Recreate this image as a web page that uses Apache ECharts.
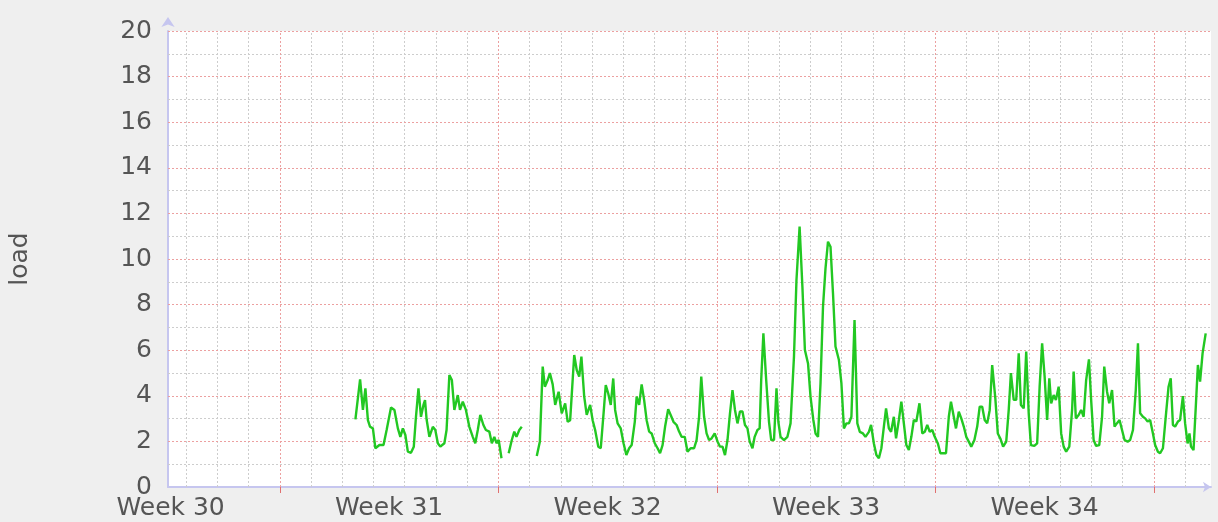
<!DOCTYPE html>
<html>
<head>
<meta charset="utf-8">
<script src="https://cdn.jsdelivr.net/npm/echarts@6/dist/echarts.min.js"></script>
<style>
html,body{margin:0;padding:0;background:#efefef;}
#chart{width:1218px;height:522px;}
</style>
</head>
<body>
<div id="chart"></div>
<script>
// x = days since start of Week 30, y = load
const days = [
 9.42,9.57,9.66,9.74,9.82,9.89,9.98,10.06,10.19,10.32,10.42,10.56,10.67,10.78,10.86,10.94,11.02,11.10,11.20,11.29,
 11.36,11.44,11.52,11.60,11.65,11.70,11.79,11.90,11.98,12.06,12.14,12.27,12.34,12.43,12.51,12.59,12.70,12.77,12.86,12.96,
 13.07,13.18,13.26,13.34,13.42,13.52,13.60,13.71,13.79,13.87,13.94,14.01,14.10,14.20,
 14.33,14.43,14.51,14.58,14.67,14.75,15.00,
 15.23,15.33,15.42,15.49,15.58,15.65,15.74,15.82,15.93,16.03,16.14,16.22,16.30,16.43,16.51,16.59,16.66,16.75,16.83,16.94,
 17.02,17.10,17.20,17.28,17.37,17.44,17.52,17.60,17.68,17.74,17.82,17.92,18.01,18.10,18.19,18.27,18.37,18.43,18.51,18.59,
 18.67,18.75,18.83,18.91,19.01,19.10,19.18,19.26,19.34,19.44,19.52,19.61,19.71,19.79,19.87,19.97,20.06,20.16,20.27,20.35,
 20.43,20.50,20.59,20.67,20.75,20.83,20.93,21.02,21.10,21.18,21.26,21.34,21.42,21.50,21.58,21.66,21.74,21.82,21.90,21.98,
 22.05,22.14,22.21,22.30,22.37,22.42,22.49,22.58,22.67,22.74,22.83,22.91,22.97,23.04,23.15,23.26,23.36,23.47,23.55,23.65,
 23.74,23.82,23.92,24.00,24.09,24.16,24.24,24.32,24.40,24.48,24.56,24.64,24.72,24.80,24.91,24.99,25.07,25.15,25.23,25.31,
 25.41,25.50,25.58,25.68,25.76,25.87,25.94,26.03,26.11,26.19,26.27,26.35,26.42,26.51,26.58,26.67,26.74,26.83,26.91,26.99,
 27.07,27.15,27.23,27.31,27.39,27.49,27.58,27.66,27.74,27.82,27.90,27.98,28.08,28.16,28.25,28.34,28.43,28.50,28.59,28.66,
 28.75,28.83,28.91,28.99,29.07,29.15,29.25,29.34,29.42,29.50,29.58,29.66,29.74,29.82,29.92,30.00,30.08,30.17,30.27,30.35,
 30.42,30.51,30.59,30.67,30.74,30.83,30.91,30.99,31.06,31.17,31.26,31.34,31.42,31.50,31.58,31.65,31.71,31.79,31.86,31.95,
 32.03,32.11,32.19,32.29,32.38,32.43,32.50,32.59,32.67,32.75,32.83,32.92,32.99,33.07,33.15,33.25,33.34,33.41,33.50,33.57,
 33.66,33.74,33.82,33.90,33.98,34.06,34.16,34.24,34.33,34.42,34.49,34.56,34.65,34.72,34.80,34.88,34.97,35.04,35.13,35.20,
 35.29,35.38,35.47,35.54,35.61,35.68,35.77,35.84,35.93,36.00,36.08,36.14,36.19,36.27,36.34,36.41,36.48,36.56,36.66
];
const load = [
 2.97,4.72,3.38,4.33,2.93,2.64,2.57,1.70,1.84,1.84,2.50,3.49,3.38,2.57,2.20,2.57,2.28,1.55,1.50,1.77,
 3.08,4.33,3.08,3.60,3.81,2.97,2.20,2.64,2.50,1.92,1.77,1.92,2.50,4.91,4.69,3.38,4.03,3.38,3.74,3.38,
 2.64,2.20,1.92,2.50,3.16,2.72,2.50,2.43,1.92,2.20,1.92,2.06,1.26,null,
 1.48,2.06,2.43,2.20,2.50,2.64,null,
 1.36,2.00,5.28,4.40,4.69,5.00,4.50,3.60,4.18,3.23,3.67,2.86,2.93,5.79,5.13,4.84,5.72,3.96,3.16,3.60,
 2.93,2.50,1.77,1.70,3.23,4.47,4.10,3.60,4.76,3.38,2.79,2.57,1.92,1.40,1.70,1.84,2.86,3.96,3.60,4.50,
 3.81,2.93,2.43,2.35,1.92,1.70,1.48,1.84,2.64,3.41,3.16,2.86,2.72,2.43,2.20,2.20,1.55,1.70,1.70,2.06,
 3.08,4.84,3.08,2.35,2.06,2.13,2.35,2.00,1.77,1.77,1.40,2.06,3.23,4.25,3.38,2.79,3.31,3.31,2.72,2.57,
 2.00,1.70,2.20,2.50,2.57,4.69,6.74,4.69,2.86,2.06,2.06,4.33,2.85,2.20,2.06,2.20,2.79,5.72,9.08,11.42,
 8.79,6.01,5.42,3.96,2.94,2.35,2.20,4.54,7.91,9.59,10.76,10.54,8.50,6.16,5.57,4.54,2.57,2.79,2.79,3.08,
 7.32,2.79,2.42,2.35,2.20,2.42,2.72,1.91,1.40,1.26,1.70,2.65,3.45,2.57,2.42,3.08,2.13,2.94,3.74,2.79,
 1.84,1.62,2.20,2.94,2.87,3.67,2.35,2.42,2.72,2.42,2.50,2.20,1.91,1.48,1.48,1.48,3.08,3.74,3.08,2.57,
 3.30,3.01,2.65,2.20,1.99,1.77,2.06,2.65,3.52,3.52,2.94,2.79,3.37,5.35,3.90,2.35,2.13,1.77,1.99,3.38,
 5.00,3.82,3.82,5.86,3.60,3.45,5.94,3.23,1.84,1.80,1.91,4.40,6.30,4.84,2.94,4.77,3.67,4.03,3.82,4.40,
 2.35,1.77,1.55,1.77,3.38,5.06,3.01,3.16,3.38,3.08,4.69,5.60,3.82,2.06,1.80,1.84,3.08,5.28,4.18,3.67,
 4.25,2.65,2.80,2.94,2.50,2.06,1.99,2.06,2.50,4.25,6.30,3.23,3.08,3.01,2.87,2.94,2.35,1.84,1.55,1.48,
 1.70,3.08,4.40,4.77,2.72,2.65,2.87,2.94,3.99,2.80,1.91,2.35,1.77,1.62,3.45,5.35,4.62,5.86,6.74
];
const weekCenters = [3.5, 10.5, 17.5, 24.5, 31.5];
const weekLabels = ['Week 30', 'Week 31', 'Week 32', 'Week 33', 'Week 34'];
const weekBounds = [7, 14, 21, 28, 35];
const dayLines = [4,5,6,8,9,10,11,12,13,15,16,17,18,19,20,22,23,24,25,26,27,29,30,31,32,33,34,36];
const yMajor = [2,4,6,8,10,12,14,16,18,20];
const yMinor = [1,3,5,7,9,11,13,15,17,19];

const X_MIN = 3.416, X_MAX = 36.83;
const RED = '#eca0a0', GRAY = '#cdcdcd', AXIS = '#c6c6ef', TXT = '#555555';
const FONT = 'DejaVu Sans';

const seriesData = days.map((d, i) => [d, load[i] === null ? '-' : load[i]]);

function ml(list, key, color) {
  return list.map(v => ({ [key]: v, lineStyle: { color: color, type: [2, 2], width: 1 } }));
}
const gridLines = []
  .concat(ml(yMinor, 'yAxis', GRAY))
  .concat(ml(dayLines, 'xAxis', GRAY))
  .concat(ml(yMajor, 'yAxis', RED))
  .concat(ml(weekBounds, 'xAxis', RED));

const chart = echarts.init(document.getElementById('chart'), null, { renderer: 'canvas' });
chart.setOption({
  backgroundColor: '#efefef',
  animation: false,
  grid: { left: 167, right: 7, top: 31, bottom: 35, show: true, backgroundColor: '#ffffff', borderWidth: 0 },
  xAxis: {
    type: 'value', min: X_MIN, max: X_MAX,
    splitLine: { show: false },
    axisLine: { show: true, onZero: false, lineStyle: { color: AXIS, width: 2 }, symbol: ['none', 'arrow'], symbolSize: [8, 8] },
    axisTick: { show: true, customValues: weekBounds, length: 6, lineStyle: { color: '#e07070', width: 1 } },
    axisLabel: {
      show: true, customValues: weekCenters, margin: 9,
      color: TXT, fontSize: 25, fontFamily: FONT,
      formatter: function (v) {
        const i = weekCenters.findIndex(c => Math.abs(c - v) < 1e-6);
        return i >= 0 ? weekLabels[i] : '';
      }
    }
  },
  yAxis: {
    type: 'value', min: 0, max: 20, interval: 2,
    name: 'load', nameLocation: 'middle', nameRotate: 90, nameGap: 135,
    nameTextStyle: { color: TXT, fontSize: 25, fontFamily: FONT },
    splitLine: { show: false },
    axisLine: { show: true, lineStyle: { color: AXIS, width: 2 }, symbol: ['none', 'arrow'], symbolSize: [10, 10], symbolOffset: [0, 14] },
    axisTick: { show: false },
    axisLabel: { color: TXT, fontSize: 25, fontFamily: FONT, margin: 16 }
  },
  series: [
    {
      type: 'line', data: [], silent: true, z: 1,
      markLine: { silent: true, symbol: 'none', animation: false, label: { show: false }, emphasis: { disabled: true }, data: gridLines }
    },
    {
      type: 'line', data: seriesData, z: 5, showSymbol: false, connectNulls: false,
      lineStyle: { color: '#22c822', width: 2.4 }, itemStyle: { color: '#22c822' }
    }
  ]
});
</script>
</body>
</html>
